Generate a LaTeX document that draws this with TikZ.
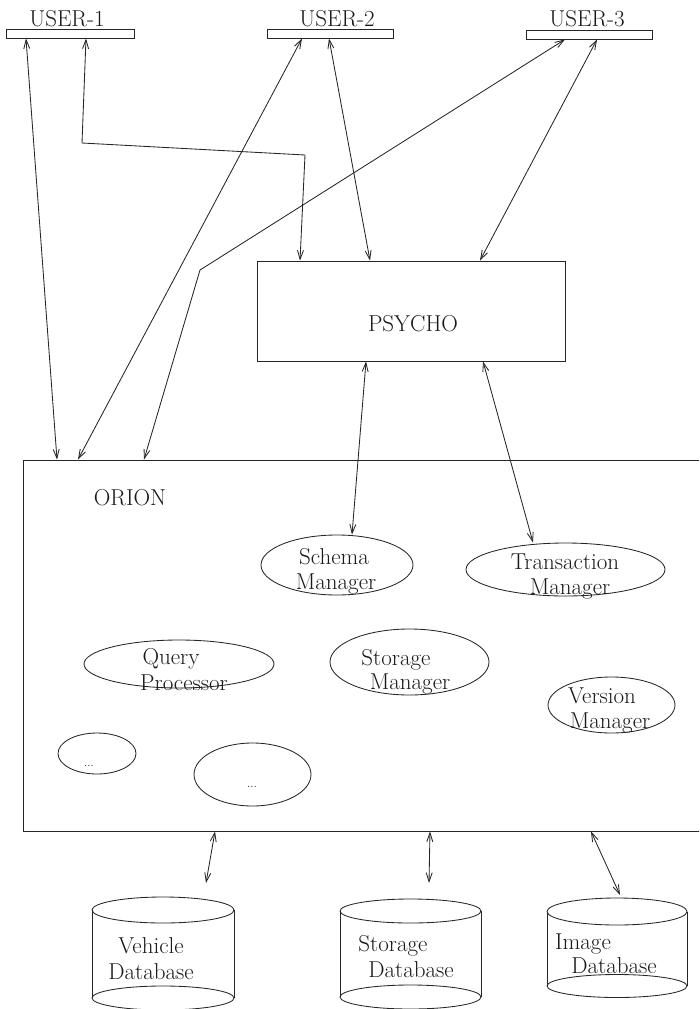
\documentclass[tikz,border=0pt]{standalone}
\usepackage{fontspec}
\usetikzlibrary{arrows.meta,shapes.geometric}
\begin{document}
\begin{tikzpicture}[x=1pt,y=-1pt,
  ln/.style={draw=black!85, line width=0.85pt},
  conn/.style={ln, {Straight Barb[length=9pt,width=6pt]}-{Straight Barb[length=9pt,width=6pt]}},
  txt/.style={anchor=base, inner sep=0pt, text=black!90, font=\fontsize{23}{26}\selectfont},
  bar/.style={ln, rectangle, inner sep=0pt, minimum height=9pt},
  oval/.style={ln, ellipse, inner sep=0pt},
  box/.style={ln, rectangle, inner sep=0pt},
]
\useasboundingbox (0,0) rectangle (699,1009);
\clip (0,0) rectangle (699,1009);

% users
\node[bar, minimum width=128pt] (u1) at (70,33.5) {};
\node[bar, minimum width=126pt] (u2) at (330,33.5) {};
\node[bar, minimum width=126pt] (u3) at (589,34.5) {};
\node[txt] (u1t) at (67,27) {USER-1};
\node[txt] (u2t) at (337,26) {USER-2};
\node[txt] (u3t) at (587,27) {USER-3};

% PSYCHO
\node[box, minimum width=308pt, minimum height=100pt] (psycho) at (411,311) {};
\node[txt] (psychot) at (413,331) {PSYCHO};

% ORION (its right side runs off the sheet)
\node[box, minimum width=697pt, minimum height=371pt] (orion) at (371.5,645.5) {};
\node[txt] (oriont) at (130,505) {ORION};

% components inside ORION
\node[oval, minimum width=152pt, minimum height=60pt] (schema) at (337,565) {};
\node[txt] at (334,564) {Schema};
\node[txt] at (336,589) {Manager};

\node[oval, minimum width=199pt, minimum height=53pt] (trans) at (565.5,569.5) {};
\node[txt] at (565,569) {Transaction};
\node[txt] at (570,594) {Manager};

\node[oval, minimum width=190pt, minimum height=48pt] (query) at (179,664) {};
\node[txt] at (171,664) {Query};
\node[txt] at (184,690) {Processor};

\node[oval, minimum width=159pt, minimum height=66pt] (storm) at (409.5,662) {};
\node[txt] at (396,665) {Storage};
\node[txt] at (410,689) {Manager};

\node[oval, minimum width=127pt, minimum height=56pt] (version) at (611.5,705) {};
\node[txt] at (602,703) {Version};
\node[txt] at (610,728) {Manager};

\node[oval, minimum width=78pt, minimum height=41pt] (more1) at (97,753.5) {};
\node[txt, font=\fontsize{12}{14}\selectfont] at (89,766) {...};
\node[oval, minimum width=117pt, minimum height=63pt] (more2) at (252.5,774.5) {};
\node[txt, font=\fontsize{12}{14}\selectfont] at (252,787) {...};

% databases
\draw[ln] (163,910) ellipse [x radius=71, y radius=13];
\draw[ln] (92,910) -- (92,998) (234,910) -- (234,998);
\draw[ln] (163,998) ellipse [x radius=71, y radius=12];
\node[txt] at (151,953) {Vehicle};
\node[txt] at (151,979) {Database};

\draw[ln] (410.5,911) ellipse [x radius=70.5, y radius=12];
\draw[ln] (340,911) -- (340,997) (481,911) -- (481,997);
\draw[ln] (410.5,997) ellipse [x radius=70.5, y radius=12];
\node[txt] at (393,951) {Storage};
\node[txt] at (411,977) {Database};

\draw[ln] (617,911.5) ellipse [x radius=70, y radius=13.5];
\draw[ln] (547,911.5) -- (547,986) (687,911.5) -- (687,986);
\draw[ln] (617,986) ellipse [x radius=70, y radius=11.5];
\node[txt] at (583,949) {Image};
\node[txt] at (614,973) {Database};

% bend points and free ends
\coordinate (k1) at (82,143);
\coordinate (k2) at (305,155);
\coordinate (k3) at (200,270);
\coordinate (dbv) at (206,883);
\coordinate (dbs) at (429,883);
\coordinate (dbi) at (620,895);

% user connections
\draw[conn] (26,0 |- u1.south) -- (57,0 |- orion.north);
\draw[conn] (86,0 |- u1.south) -- (k1) -- (k2) -- (300,0 |- psycho.north);
\draw[conn] (302,0 |- u2.south) -- (78,0 |- orion.north);
\draw[conn] (329,0 |- u2.south) -- (370,0 |- psycho.north);
\draw[conn] (565,0 |- u3.south) -- (k3) -- (144,0 |- orion.north);
\draw[conn] (597,0 |- u3.south) -- (480,0 |- psycho.north);

% PSYCHO to ORION components
\draw[conn] (366,0 |- psycho.south) -- (352,0 |- schema.north);
\draw[conn] (483,0 |- psycho.south) -- (533,0 |- trans.north);

% ORION to databases
\draw[conn] (215,0 |- orion.south) -- (dbv);
\draw[conn] (430,0 |- orion.south) -- (dbs);
\draw[conn] (591,0 |- orion.south) -- (dbi);
\end{tikzpicture}
\end{document}
